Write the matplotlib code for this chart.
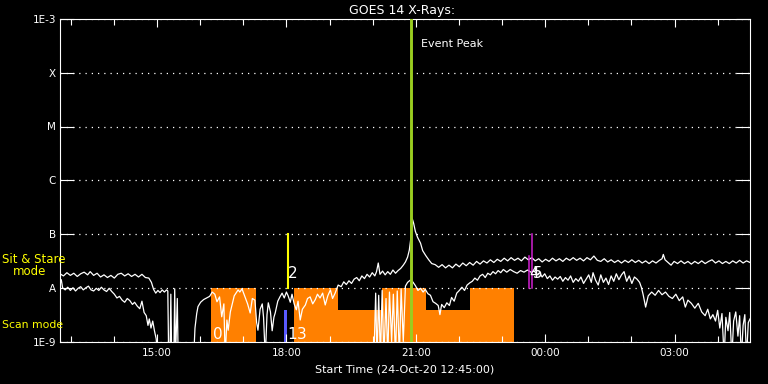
import numpy as np
import matplotlib
matplotlib.use('Agg')
import matplotlib.pyplot as plt
from matplotlib.ticker import FixedLocator, NullLocator

# time axis: hours since 24-Oct-20 12:45
# GOES long channel (1-8 A), log10 flux
long_pts = [
    (0.00, -7.74), (0.08, -7.78), (0.16, -7.72), (0.24, -7.77), (0.32, -7.73), (0.40, -7.79),
    (0.48, -7.74), (0.56, -7.71), (0.64, -7.76), (0.70, -7.70), (0.78, -7.77), (0.86, -7.73),
    (0.94, -7.80), (1.02, -7.76), (1.10, -7.81), (1.18, -7.77), (1.26, -7.82), (1.34, -7.75),
    (1.42, -7.73), (1.50, -7.78), (1.58, -7.74), (1.66, -7.79), (1.74, -7.75), (1.82, -7.80),
    (1.90, -7.75), (1.98, -7.81), (2.06, -7.82), (2.12, -7.90), (2.17, -8.03), (2.22, -8.10),
    (2.27, -8.05), (2.32, -8.09), (2.37, -8.04), (2.42, -8.08), (2.47, -8.04), (2.50, -8.06),
    (2.52, -9.30), (2.55, -9.30), (2.57, -8.12), (2.59, -9.30), (2.64, -9.30), (2.66, -8.02),
    (2.68, -9.30), (2.72, -8.20), (2.74, -9.30), (3.10, -9.30), (3.13, -8.75), (3.17, -8.48),
    (3.20, -8.35), (3.26, -8.27), (3.33, -8.22), (3.40, -8.19), (3.47, -8.16), (3.53, -8.08),
    (3.59, -8.12), (3.64, -8.26), (3.70, -8.17), (3.75, -8.54), (3.80, -8.30), (3.83, -9.30),
    (3.87, -8.60), (3.90, -8.79), (3.95, -8.45), (3.99, -8.32), (4.04, -8.15), (4.08, -8.10),
    (4.13, -8.04), (4.17, -8.08), (4.22, -8.02), (4.29, -8.17), (4.35, -8.30), (4.41, -8.47),
    (4.46, -8.20), (4.52, -8.23), (4.56, -8.65), (4.59, -8.79), (4.64, -8.40), (4.69, -8.30),
    (4.72, -8.55), (4.76, -9.30), (4.80, -8.50), (4.83, -8.28), (4.88, -8.45), (4.92, -8.80),
    (4.96, -8.55), (4.99, -8.47), (5.05, -8.25), (5.10, -8.17), (5.15, -8.10), (5.20, -8.19),
    (5.25, -8.08), (5.29, -8.15), (5.34, -8.27), (5.38, -8.12), (5.43, -8.30), (5.48, -8.41),
    (5.52, -8.25), (5.57, -8.60), (5.62, -8.40), (5.69, -8.32), (5.74, -8.20), (5.80, -8.17),
    (5.86, -8.30), (5.92, -8.22), (5.97, -8.12), (6.03, -8.19), (6.09, -8.10), (6.15, -8.32),
    (6.21, -8.15), (6.27, -8.04), (6.32, -8.20), (6.38, -8.10), (6.45, -7.95), (6.52, -7.98),
    (6.58, -7.89), (6.64, -7.94), (6.70, -7.87), (6.76, -7.92), (6.82, -7.84), (6.88, -7.81),
    (6.94, -7.87), (7.00, -7.78), (7.06, -7.83), (7.12, -7.75), (7.18, -7.80), (7.24, -7.72),
    (7.30, -7.78), (7.34, -7.70), (7.38, -7.54), (7.42, -7.75), (7.48, -7.69), (7.54, -7.76),
    (7.60, -7.70), (7.66, -7.75), (7.72, -7.67), (7.78, -7.73), (7.84, -7.68), (7.90, -7.64),
    (7.96, -7.58), (8.01, -7.52), (8.06, -7.43), (8.10, -7.30), (8.14, -7.05), (8.17, -6.72),
    (8.20, -6.80), (8.24, -6.95), (8.29, -7.06), (8.36, -7.17), (8.41, -7.31), (8.48, -7.40),
    (8.55, -7.48), (8.62, -7.55), (8.70, -7.57), (8.78, -7.62), (8.86, -7.57), (8.94, -7.63),
    (9.02, -7.58), (9.10, -7.63), (9.18, -7.56), (9.26, -7.61), (9.34, -7.54), (9.42, -7.59),
    (9.50, -7.53), (9.58, -7.58), (9.66, -7.51), (9.74, -7.56), (9.82, -7.50), (9.90, -7.54),
    (9.98, -7.48), (10.06, -7.53), (10.14, -7.47), (10.22, -7.51), (10.30, -7.45), (10.38, -7.50),
    (10.46, -7.44), (10.54, -7.49), (10.62, -7.45), (10.70, -7.50), (10.78, -7.43), (10.86, -7.48),
    (10.94, -7.44), (11.02, -7.50), (11.10, -7.46), (11.18, -7.52), (11.26, -7.47), (11.34, -7.51),
    (11.42, -7.45), (11.50, -7.50), (11.58, -7.46), (11.66, -7.51), (11.74, -7.45), (11.82, -7.49),
    (11.90, -7.44), (11.98, -7.49), (12.06, -7.45), (12.14, -7.50), (12.22, -7.44), (12.30, -7.48),
    (12.38, -7.41), (12.46, -7.49), (12.54, -7.51), (12.62, -7.46), (12.70, -7.52), (12.78, -7.48),
    (12.86, -7.53), (12.94, -7.49), (13.02, -7.54), (13.10, -7.49), (13.18, -7.53), (13.26, -7.48),
    (13.34, -7.53), (13.42, -7.49), (13.50, -7.54), (13.58, -7.50), (13.66, -7.55), (13.74, -7.50),
    (13.82, -7.54), (13.90, -7.49), (13.96, -7.46), (13.99, -7.38), (14.03, -7.48), (14.10, -7.53),
    (14.17, -7.58), (14.24, -7.51), (14.32, -7.55), (14.40, -7.50), (14.48, -7.55), (14.56, -7.51),
    (14.64, -7.56), (14.72, -7.51), (14.80, -7.55), (14.88, -7.50), (14.96, -7.55), (15.04, -7.51),
    (15.12, -7.48), (15.20, -7.54), (15.28, -7.50), (15.36, -7.55), (15.44, -7.51), (15.52, -7.55),
    (15.60, -7.50), (15.68, -7.54), (15.76, -7.49), (15.84, -7.54), (15.92, -7.50), (16.00, -7.53),
]

# GOES short channel (0.5-4 A), log10 flux
short_pts = [
    (0.00, -7.93), (0.03, -7.85), (0.06, -8.00), (0.12, -8.04), (0.18, -7.99), (0.24, -8.05),
    (0.30, -8.00), (0.36, -8.06), (0.42, -8.01), (0.48, -7.98), (0.54, -8.04), (0.60, -8.00),
    (0.66, -7.97), (0.72, -8.04), (0.78, -8.06), (0.84, -8.01), (0.90, -8.05), (0.96, -7.99),
    (1.02, -8.04), (1.08, -8.07), (1.14, -8.01), (1.20, -8.07), (1.26, -8.12), (1.32, -8.19),
    (1.38, -8.16), (1.44, -8.23), (1.50, -8.27), (1.56, -8.20), (1.62, -8.24), (1.68, -8.31),
    (1.73, -8.27), (1.79, -8.34), (1.85, -8.39), (1.90, -8.25), (1.95, -8.46), (2.00, -8.52),
    (2.04, -8.70), (2.07, -8.58), (2.11, -8.75), (2.15, -8.62), (2.19, -8.80), (2.23, -8.95),
    (2.27, -9.30), (7.28, -9.30), (7.32, -8.10), (7.35, -9.30), (7.39, -8.14), (7.43, -9.30),
    (7.47, -8.05), (7.51, -9.30), (7.56, -8.20), (7.60, -9.30), (7.64, -8.08), (7.69, -9.00),
    (7.73, -8.12), (7.78, -9.30), (7.82, -8.06), (7.87, -9.30), (7.91, -8.02), (7.96, -9.00),
    (8.01, -7.97), (8.06, -7.90), (8.12, -7.86), (8.18, -7.89), (8.24, -7.96), (8.30, -8.05),
    (8.36, -8.01), (8.42, -8.08), (8.47, -8.03), (8.53, -8.11), (8.59, -8.14), (8.65, -8.26),
    (8.71, -8.29), (8.77, -8.33), (8.81, -8.50), (8.85, -8.31), (8.91, -8.37), (8.97, -8.28),
    (9.03, -8.33), (9.08, -8.18), (9.14, -8.25), (9.20, -8.10), (9.26, -8.05), (9.32, -7.99),
    (9.38, -8.05), (9.44, -7.95), (9.50, -7.91), (9.56, -7.88), (9.62, -7.82), (9.68, -7.86),
    (9.74, -7.78), (9.80, -7.75), (9.86, -7.81), (9.92, -7.73), (9.98, -7.76), (10.04, -7.70),
    (10.10, -7.74), (10.16, -7.68), (10.22, -7.72), (10.28, -7.66), (10.36, -7.71), (10.44, -7.66),
    (10.52, -7.70), (10.60, -7.73), (10.68, -7.68), (10.76, -7.71), (10.84, -7.67), (10.92, -7.71),
    (11.00, -7.69), (11.06, -7.76), (11.12, -7.72), (11.18, -7.80), (11.24, -7.74), (11.30, -7.83),
    (11.36, -7.78), (11.42, -7.86), (11.48, -7.80), (11.54, -7.84), (11.60, -7.79), (11.66, -7.88),
    (11.72, -7.81), (11.78, -7.86), (11.84, -7.78), (11.90, -7.90), (11.96, -7.83), (12.02, -7.88),
    (12.08, -7.80), (12.14, -7.92), (12.20, -7.84), (12.26, -7.76), (12.32, -7.90), (12.36, -7.72),
    (12.42, -7.86), (12.48, -7.95), (12.54, -7.76), (12.60, -7.90), (12.66, -7.82), (12.72, -7.94),
    (12.78, -7.78), (12.84, -7.88), (12.90, -7.74), (12.96, -7.85), (13.02, -7.76), (13.08, -7.70),
    (13.14, -7.88), (13.20, -7.78), (13.26, -7.92), (13.32, -7.80), (13.38, -7.84), (13.44, -7.90),
    (13.48, -7.99), (13.52, -8.12), (13.58, -8.36), (13.64, -8.15), (13.72, -8.08), (13.80, -8.14),
    (13.88, -8.05), (13.96, -8.13), (14.04, -8.08), (14.12, -8.16), (14.20, -8.20), (14.28, -8.12),
    (14.36, -8.24), (14.44, -8.17), (14.50, -8.36), (14.56, -8.23), (14.64, -8.29), (14.72, -8.38),
    (14.80, -8.29), (14.88, -8.45), (14.96, -8.52), (15.02, -8.40), (15.08, -8.58), (15.14, -8.50),
    (15.20, -8.62), (15.25, -8.42), (15.30, -8.75), (15.35, -8.48), (15.40, -9.30), (15.44, -8.55),
    (15.49, -8.80), (15.53, -8.46), (15.58, -9.30), (15.62, -8.62), (15.67, -8.45), (15.72, -8.90),
    (15.76, -8.52), (15.80, -9.30), (15.84, -8.70), (15.88, -8.50), (15.92, -9.30), (15.96, -8.65),
    (16.00, -8.58),
]

# IRIS scan mode blocks (hours since start) and their top level
scan_starts = [3.49, 5.43, 6.45, 7.47, 8.49, 9.50]
scan_ends = [4.54, 6.45, 7.47, 8.49, 9.50, 10.52]
scan_tops = [1e-8, 1e-8, 3.9e-9, 1e-8, 3.9e-9, 1e-8]

# short sit & stare bar
sns_start, sns_end, sns_top = 5.20, 5.26, 3.9e-9

# observation marker lines
obs_times = [5.28, 10.88, 10.95]
obs_tops = [1e-7, 3.9e-8, 1e-7]
obs_colors = ['#ffff00', '#d020d0', '#d020d0']
peak_time = 8.14

tick_hours = [2.25, 5.25, 8.25, 11.25, 14.25]
tick_labels = ['15:00', '18:00', '21:00', '00:00', '03:00']
level_vals = [1e-9, 1e-8, 1e-7, 1e-6, 1e-5, 1e-4, 1e-3]
level_labels = ['1E-9', 'A', 'B', 'C', 'M', 'X', '1E-3']

long_hours, long_log = zip(*long_pts)
short_hours, short_log = zip(*short_pts)

fig = plt.figure(figsize=(7.68, 3.84), dpi=100, facecolor='black')
ax = fig.add_axes([60 / 768, 1 - 341.5 / 384, 690 / 768, 322.5 / 384], facecolor='black')
ax.set_yscale('log')
ax.set_xlim(0, 16)
ax.set_ylim(1e-9, 1e-3)

orange = '#ff8000'
for s, e, t in zip(scan_starts, scan_ends, scan_tops):
    ax.fill_between([s, e], 1e-10, t, color=orange, lw=0, zorder=1)
ax.fill_between([sns_start, sns_end], 1e-10, sns_top, color='#5a5aff', lw=0, zorder=1)

ax.plot(long_hours, 10 ** np.array(long_log), color='white', lw=0.9, zorder=3)
ax.plot(short_hours, 10 ** np.array(short_log), color='white', lw=0.9, zorder=3)

for t, top, c in zip(obs_times, obs_tops, obs_colors):
    ax.plot([t, t], [1e-8, top], color=c, lw=1.5 if c == '#ffff00' else 1.1, zorder=4)
ax.axvline(peak_time, color='#9acd20', lw=2.1, zorder=4)

# labels inside the plot
lab_kw = dict(color='white', fontsize=11, va='baseline', ha='left', zorder=5)
ax.text(3.55, 10 ** -8.953, '0', **lab_kw)
ax.text(5.26, 10 ** -8.953, '1', **lab_kw)
ax.text(5.49, 10 ** -8.953, '3', **lab_kw)
ax.text(5.29, 10 ** -7.819, '2', **lab_kw)
ax.text(10.87, 10 ** -7.819, '4', **lab_kw)
ax.text(10.96, 10 ** -7.819, '5', **lab_kw)
ax.text(8.38, 10 ** -3.52, 'Event Peak', color='white', fontsize=8, va='baseline', ha='left')

# axes styling
for sp in ax.spines.values():
    sp.set_color('white')
    sp.set_linewidth(0.8)
ax.xaxis.set_major_locator(FixedLocator(tick_hours))
ax.xaxis.set_minor_locator(FixedLocator([0.25 + k for k in range(16)]))
ax.set_xticklabels(tick_labels)
ax.yaxis.set_major_locator(FixedLocator(level_vals))
ax.yaxis.set_minor_locator(NullLocator())
ax.set_yticklabels(level_labels)
ax.tick_params(axis='x', which='major', direction='in', length=6, width=0.8,
               top=True, bottom=True, colors='white', labelsize=7.5, pad=5)
ax.tick_params(axis='x', which='minor', direction='in', length=4, width=0.8,
               top=True, bottom=True, colors='white')
ax.tick_params(axis='y', which='major', direction='in', length=10, width=0.8,
               left=True, right=True, colors='white', labelsize=7.5, pad=3)
ax.grid(axis='y', which='major', color='white', linestyle=(0, (1, 4)), linewidth=0.9)
ax.set_axisbelow(False)

fig.text(402 / 768, 1 - 14 / 384, 'GOES 14 X-Rays:', color='white', fontsize=9,
         ha='center', va='baseline')
fig.text(405 / 768, 1 - 372 / 384, 'Start Time (24-Oct-20 12:45:00)', color='white',
         fontsize=8, ha='center', va='baseline')
fig.text(2 / 768, 1 - 263 / 384, 'Sit & Stare', color='#ffff00', fontsize=8.5, va='baseline')
fig.text(13 / 768, 1 - 275 / 384, 'mode', color='#ffff00', fontsize=8.5, va='baseline')
fig.text(2 / 768, 1 - 328 / 384, 'Scan mode', color='#ffff00', fontsize=7.8, va='baseline')

fig.savefig('out.png', dpi=100, facecolor='black')
